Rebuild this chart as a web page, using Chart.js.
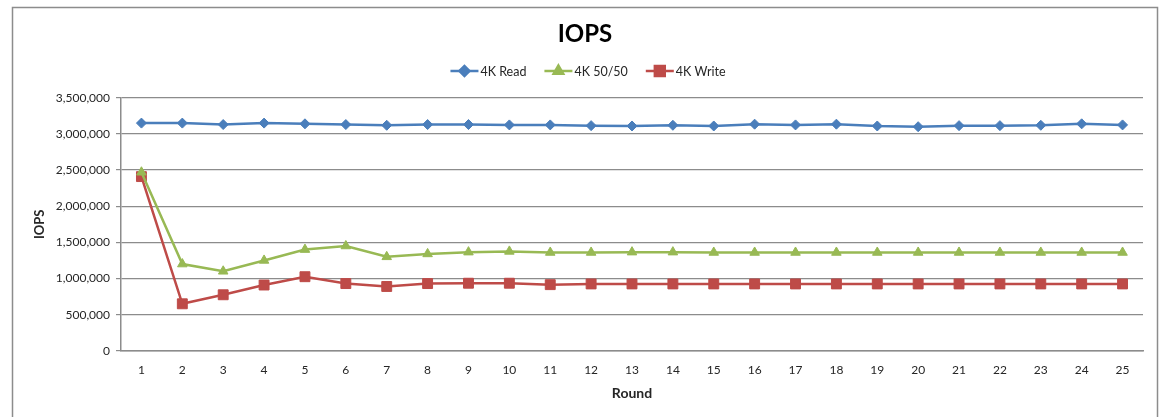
<!DOCTYPE html>
<html>
<head>
<meta charset="utf-8">
<script src="https://cdn.jsdelivr.net/npm/chart.js@4/dist/chart.umd.min.js"></script>
<style>
  html, body { margin: 0; padding: 0; background: #fff; }
  #wrap { width: 1162px; height: 417px; position: relative; }
</style>
</head>
<body>
<div id="wrap"><canvas id="c" width="1162" height="417"></canvas></div>
<script>
const rounds = ["1","2","3","4","5","6","7","8","9","10","11","12","13","14","15","16","17","18","19","20","21","22","23","24","25"];
const read4k = [3150000,3150000,3130000,3150000,3140000,3130000,3120000,3130000,3130000,3125000,3125000,3115000,3110000,3120000,3110000,3135000,3125000,3135000,3110000,3100000,3115000,3115000,3120000,3140000,3125000];
const mixed4k = [2470000,1200000,1100000,1250000,1400000,1450000,1300000,1340000,1365000,1375000,1360000,1360000,1365000,1365000,1360000,1360000,1360000,1360000,1360000,1360000,1360000,1360000,1360000,1360000,1360000];
const write4k = [2410000,650000,775000,910000,1025000,930000,890000,930000,935000,935000,915000,925000,925000,925000,925000,925000,925000,925000,925000,925000,925000,925000,925000,925000,925000];
const seriesNames = ["4K Read","4K 50/50","4K Write"];
const yTicks = [0,500000,1000000,1500000,2000000,2500000,3000000,3500000];

const FONT = "Lato, 'Liberation Sans', sans-serif";
const TEXT = "#262626";
const GRID = "#8c8c8c";

const frame = {
  id: 'frame',
  beforeDraw(chart) {
    const ctx = chart.ctx;
    ctx.save();
    ctx.fillStyle = '#fff';
    ctx.fillRect(0, 0, chart.width, chart.height);
    ctx.strokeStyle = '#8c8c8c';
    ctx.lineWidth = 1.5;
    ctx.strokeRect(12.5, 7.5, 1145, 430);
    ctx.restore();
  }
};

const customLegend = {
  id: 'customLegend',
  afterDraw(chart) {
    const ctx = chart.ctx;
    ctx.save();
    ctx.font = "12.5px " + FONT;
    const lineW = 28, gap = 2, spacing = 18;
    const items = chart.data.datasets.map(ds => ({ds, tw: ctx.measureText(ds.label).width}));
    let total = 0;
    items.forEach((it, i) => { total += lineW + gap + it.tw + (i < items.length - 1 ? spacing : 0); });
    let x = 588 - total / 2;
    const y = 71;
    items.forEach(it => {
      const ds = it.ds;
      ctx.strokeStyle = ds.borderColor;
      ctx.lineWidth = 2.5;
      ctx.beginPath();
      ctx.moveTo(x, y);
      ctx.lineTo(x + lineW, y);
      ctx.stroke();
      ctx.fillStyle = ds.backgroundColor;
      ctx.strokeStyle = ds.borderColor;
      Chart.helpers.drawPoint(ctx, {pointStyle: ds.pointStyle, radius: ds.pointRadius, borderWidth: 1, rotation: 0}, x + lineW / 2, y);
      ctx.fillStyle = TEXT;
      ctx.textBaseline = 'middle';
      ctx.textAlign = 'left';
      ctx.fillText(ds.label, x + lineW + gap, y + 1);
      x += lineW + gap + it.tw + spacing;
    });
    ctx.restore();
  }
};

new Chart(document.getElementById('c'), {
  type: 'line',
  data: {
    labels: rounds,
    datasets: [
      {label: seriesNames[0], data: read4k, borderColor: '#4A7EBB', backgroundColor: '#4A7EBB', borderWidth: 2.5, pointStyle: 'rectRot', pointRadius: 5, pointBorderWidth: 1, tension: 0},
      {label: seriesNames[1], data: mixed4k, borderColor: '#98B954', backgroundColor: '#98B954', borderWidth: 2.5, pointStyle: 'triangle', pointRadius: 5.5, pointBorderWidth: 1, tension: 0},
      {label: seriesNames[2], data: write4k, borderColor: '#BE4B48', backgroundColor: '#BE4B48', borderWidth: 2.5, pointStyle: 'rect', pointRadius: 7, pointBorderWidth: 1, tension: 0}
    ]
  },
  options: {
    responsive: false,
    animation: false,
    devicePixelRatio: 1,
    layout: {padding: {left: 27, right: 19, top: 0, bottom: 0}},
    plugins: {
      legend: {display: false},
      tooltip: {enabled: false},
      title: {
        display: true,
        text: 'IOPS',
        color: '#000',
        font: {family: FONT, size: 24, weight: 'bold'},
        padding: {top: 20, bottom: 49}
      }
    },
    scales: {
      x: {
        type: 'category',
        offset: true,
        grid: {display: false, drawTicks: false},
        border: {display: true, color: GRID, width: 1.5},
        ticks: {color: TEXT, font: {family: FONT, size: 12}, padding: 12, maxRotation: 0, autoSkip: false},
        title: {display: true, text: 'Round', color: TEXT, font: {family: FONT, size: 14, weight: 'bold'}, padding: {top: -4, bottom: 15}}
      },
      y: {
        min: 0,
        max: 3500000,
        afterBuildTicks(scale) { scale.ticks = yTicks.map(v => ({value: v})); },
        afterFit(scale) { scale.width = 94; },
        grid: {color: GRID, lineWidth: 1.2, drawTicks: true, tickLength: 5},
        border: {display: true, color: GRID, width: 1.5},
        ticks: {color: TEXT, font: {family: FONT, size: 12}, padding: 6, callback: v => Number(v).toLocaleString('en-US')},
        title: {display: true, text: 'IOPS', color: TEXT, font: {family: FONT, size: 13, weight: 'bold'}, padding: {top: 5, bottom: 0}}
      }
    }
  },
  plugins: [frame, customLegend]
});
</script>
</body>
</html>
